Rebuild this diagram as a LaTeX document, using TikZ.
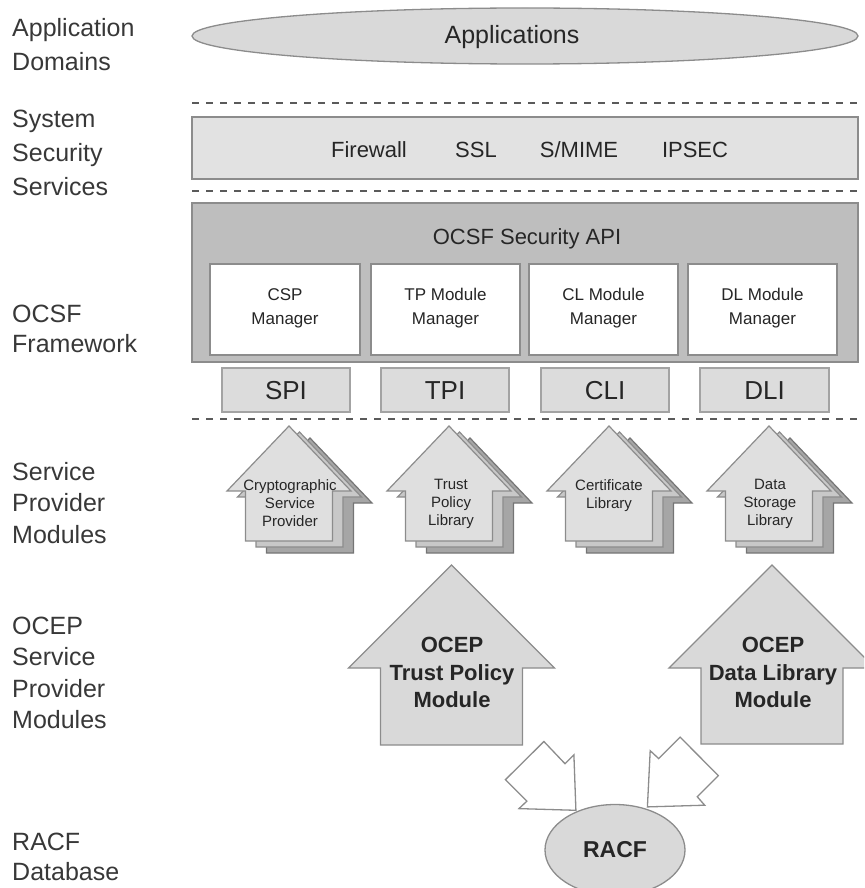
\documentclass[tikz,border=0pt]{standalone}
\usepackage{fontspec}
\setmainfont{Liberation Sans}
\usetikzlibrary{shapes.geometric}
\definecolor{txt}{HTML}{262626}
\definecolor{lbltxt}{HTML}{383838}
\definecolor{ellfill}{HTML}{D9D9D9}
\definecolor{edge}{HTML}{8C8C8C}
\definecolor{sssfill}{HTML}{E2E2E2}
\definecolor{fwfill}{HTML}{BEBEBE}
\definecolor{ifill}{HTML}{DCDCDC}
\definecolor{hfrontc}{HTML}{DFDFDF}
\definecolor{hmidc}{HTML}{C8C8C8}
\definecolor{hbackc}{HTML}{A6A6A6}
\definecolor{dashc}{HTML}{5A5A5A}
\newcommand\hshape[7]{\path[#7] (#1,#2) -- (#1+#6,#3) -- (#1+#5,#3) -- (#1+#5,#4) -- (#1-#5,#4) -- (#1-#5,#3) -- (#1-#6,#3) -- cycle;}
\tikzset{
  lbl/.style={anchor=north west, inner sep=0pt, align=left, text=lbltxt},
  sep/.style={draw=dashc, line width=2pt, dash pattern=on 7pt off 7pt},
  plain/.style={inner sep=0pt, text=txt},
  mgrbox/.style={draw=edge, line width=1.3pt, fill=white},
  ifbox/.style={draw=edge!80, line width=1.3pt, fill=ifill},
  hfront/.style={draw=edge, line width=1.2pt, fill=hfrontc},
  hmid/.style={draw=edge, line width=1.2pt, fill=hmidc},
  hback/.style={draw=edge!120, line width=1.2pt, fill=hbackc},
  ocep/.style={draw=edge, line width=1.3pt, fill=ellfill},
  harrow/.style={draw=edge, line width=1.3pt, fill=white, line join=miter},
  htxt/.style={inner sep=0pt, anchor=north, align=center, text=txt, font=\fontsize{15}{18}\selectfont},
  otxt/.style={inner sep=0pt, anchor=north, align=center, text=txt, font=\bfseries\fontsize{22}{27.5}\selectfont},
}
\begin{document}
\begin{tikzpicture}[x=1pt,y=-1pt]
\useasboundingbox (0,0) rectangle (864,888);
\clip (0,0) rectangle (864,888);

% left column labels
\node[lbl, font=\fontsize{25}{34.5}\selectfont] (lA) at (12,18) {Application\\Domains};
\node[lbl, font=\fontsize{25}{34}\selectfont] (lS) at (12,110) {System\\Security\\Services};
\node[lbl, font=\fontsize{25}{30}\selectfont] (lO) at (12,305) {OCSF\\Framework};
\node[lbl, font=\fontsize{25}{31.5}\selectfont] (lP) at (12,462) {Service\\Provider\\Modules};
\node[lbl, font=\fontsize{25}{31.3}\selectfont] (lE) at (12,617) {OCEP\\Service\\Provider\\Modules};
\node[lbl, font=\fontsize{25}{30}\selectfont] (lR) at (12,833) {RACF\\Database};

% applications
\node[ellipse, draw=edge, line width=1.3pt, fill=ellfill, minimum width=666pt, minimum height=56pt, inner sep=0pt] (apps) at (525,36) {};
\node[plain, font=\fontsize{25}{30}\selectfont] (appst) at (512,37) {Applications};

% separators
\coordinate (d1a) at (192,103); \coordinate (d1b) at (858,103);
\coordinate (d2a) at (192,191); \coordinate (d2b) at (858,191);
\coordinate (d3a) at (192,419); \coordinate (d3b) at (858,419);
\draw[sep] (d1a) -- (d1b);
\draw[sep] (d2a) -- (d2b);
\draw[sep] (d3a) -- (d3b);

% system security services
\draw[draw=edge, line width=1.3pt, fill=sssfill] (192,117) rectangle (858,179);
\node[plain, font=\fontsize{22}{26}\selectfont] (fw) at (369,150) {Firewall};
\node[plain, font=\fontsize{22}{26}\selectfont] (ssl) at (476,150) {SSL};
\node[plain, font=\fontsize{22}{26}\selectfont] (smime) at (579,150) {S/MIME};
\node[plain, font=\fontsize{22}{26}\selectfont] (ipsec) at (695,150) {IPSEC};

% OCSF framework
\draw[draw=edge, line width=1.3pt, fill=fwfill] (192,203) rectangle (858,362);
\node[plain, font=\fontsize{22}{26}\selectfont] (api) at (527,239) {OCSF Security API};
\foreach \a/\b/\n/\t in {210/360/csp/{CSP\\Manager}, 371/520/tpm/{TP Module\\Manager}, 529/678/clm/{CL Module\\Manager}, 688/837/dlm/{DL Module\\Manager}}{
  \draw[mgrbox] (\a,264) rectangle (\b,355);
  \node[htxt, font=\fontsize{17}{24}\selectfont] (\n) at ({(\a+\b)/2},288) {\t};
}
\foreach \a/\b/\n/\t in {222/350/spi/SPI, 381/509/tpi/TPI, 541/669/cli/CLI, 700/829/dli/DLI}{
  \draw[ifbox] (\a,368) rectangle (\b,412);
  \node[plain, font=\fontsize{26}{30}\selectfont] (\n) at ({(\a+\b)/2},391) {\t};
}

% service provider module houses (stacked)
\foreach \cx in {289,449,609,769}{
  \hshape{\cx+21}{438}{503}{553}{43.5}{62}{hback}
  \hshape{\cx+10.5}{432}{497}{547}{43.5}{62}{hmid}
  \hshape{\cx}{426}{491}{541}{43.5}{62}{hfront}
}
\node[htxt] (csp2) at (290,479) {Cryptographic\\Service\\Provider};
\node[htxt] (tpl) at (451,479) {Trust\\Policy\\Library};
\node[htxt] (cl) at (609,479) {Certificate\\Library};
\node[htxt] (dsl) at (770,479) {Data\\Storage\\Library};

% OCEP houses
\hshape{451.5}{565}{668}{745}{71}{103}{ocep}
\hshape{772}{565}{668}{744}{71}{103}{ocep}
\node[otxt] (otp) at (452,637) {OCEP\\Trust Policy\\Module};
\node[otxt] (odl) at (773,637) {OCEP\\Data Library\\Module};

% RACF
\node[ellipse, draw=edge, line width=1.3pt, fill=ellfill, minimum width=140pt, minimum height=91pt, inner sep=0pt, text=txt, font=\bfseries\fontsize{23}{27}\selectfont] (racf) at (615,850) {RACF};

% white block arrows
\path[harrow] (543.9,741.5) -- (565.0,763.7) -- (573.9,754.8) -- (575.9,810.3) -- (519.0,808.6) -- (526.9,801.1) -- (505.4,779.7) -- cycle;
\path[harrow] (680.1,737.1) -- (718.3,775.6) -- (697.2,796.7) -- (704.7,805.2) -- (647.4,806.9) -- (650.2,750.7) -- (658.7,758.6) -- cycle;
\end{tikzpicture}
\end{document}
